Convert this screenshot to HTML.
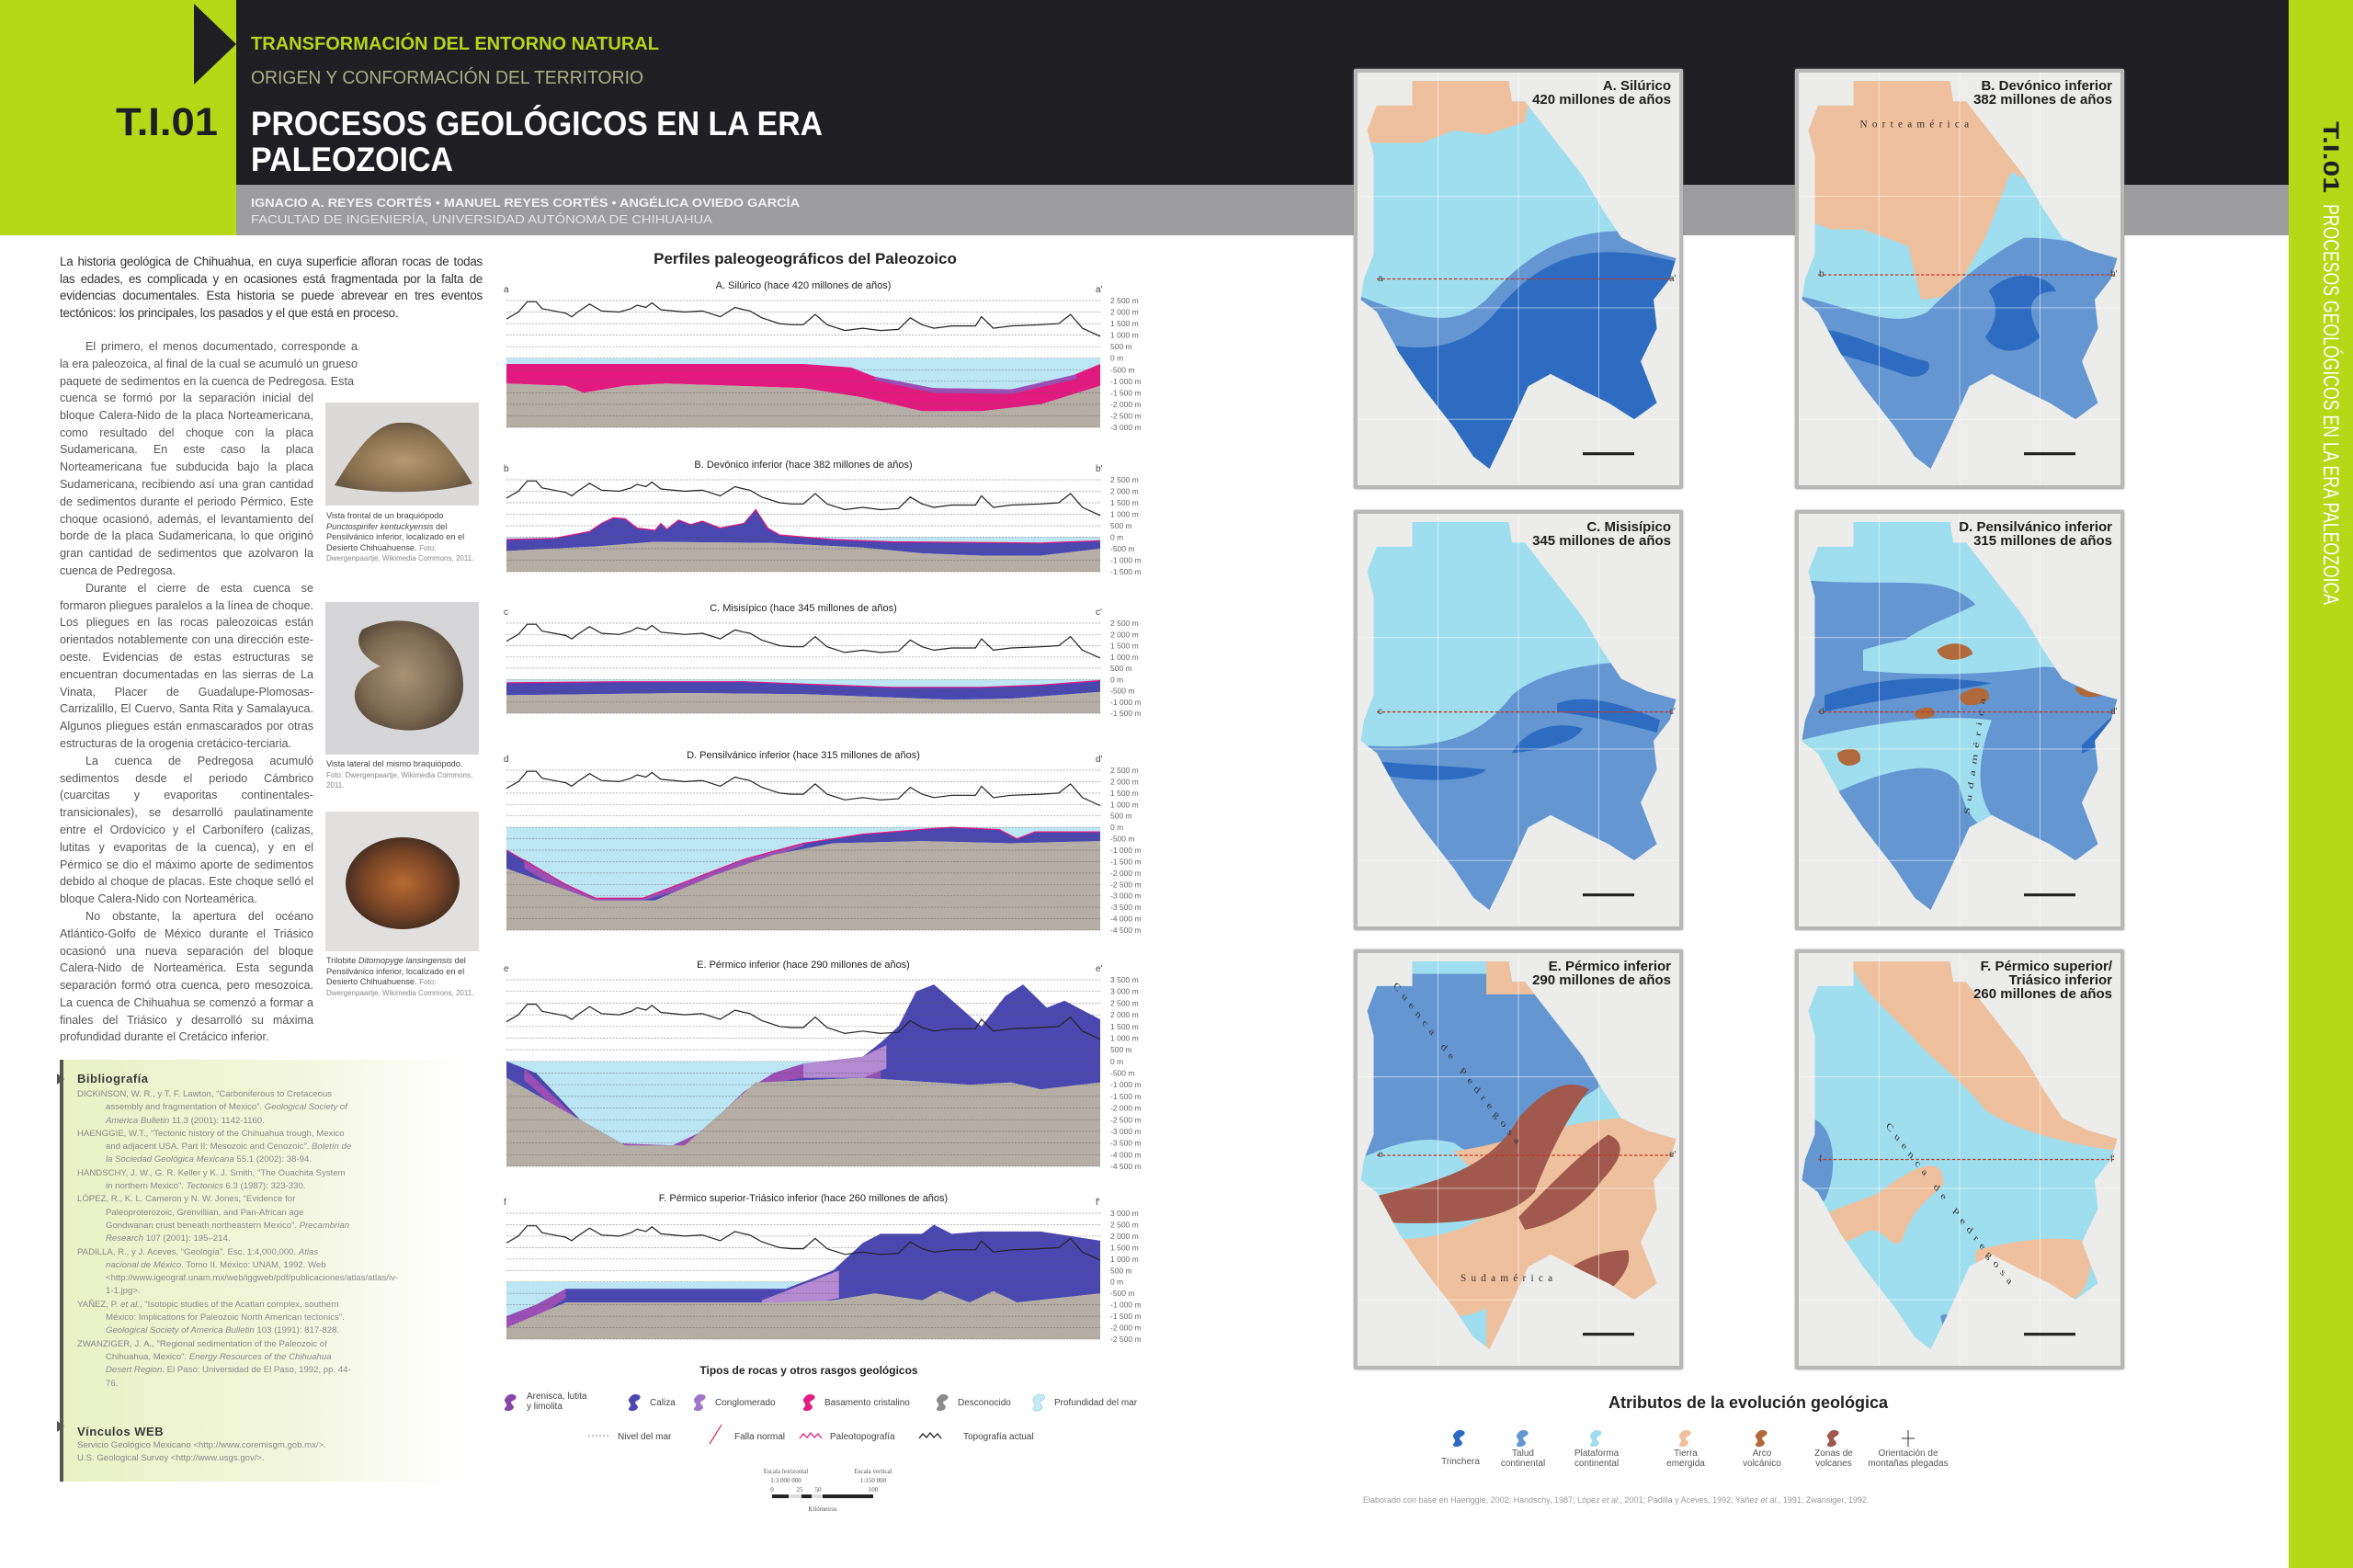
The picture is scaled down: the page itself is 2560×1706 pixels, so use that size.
<!DOCTYPE html>
<html lang="es"><head><meta charset="utf-8"><title>T.I.01 Procesos geológicos en la era paleozoica</title>
<style>
*{margin:0;padding:0;box-sizing:border-box}
html,body{width:2560px;height:1706px;overflow:hidden;background:#fff;font-family:"Liberation Sans",sans-serif}
.abs{position:absolute}
#body p{text-align:justify;font-size:12.6px;line-height:18.8px;color:#555;text-indent:28px}
.cap{font-size:9.2px;line-height:11.5px;color:#444}
.cap small{font-size:8px;color:#888}
.bib{font-size:9.6px;line-height:14.3px;color:#8a8a8a}
.bib div{padding-left:31px;text-indent:-31px}
.lg{font-size:10px;color:#444}
.mt{font-weight:bold;font-size:15px;line-height:15px;text-align:right;color:#1e1e1e}
.at{font-size:10px;color:#555;text-align:center;line-height:11px;position:absolute;width:80px}
</style></head><body>
<!-- header -->
<div class="abs" style="left:0;top:0;width:257px;height:256px;background:#b6d816"></div>
<div class="abs" style="left:257px;top:0;width:2233px;height:201px;background:#1f1e23"></div>
<div class="abs" style="left:257px;top:201px;width:2233px;height:55px;background:#9d9c9e"></div>
<div class="abs" style="left:2490px;top:0;width:70px;height:1706px;background:#b6d816"></div>
<svg class="abs" style="left:0;top:0" width="1300" height="260">
<polygon points="211,4 257,48 211,92" fill="#1f1e23"/>
<text x="273" y="54" font-size="20" font-weight="bold" fill="#b5d51a" textLength="444" lengthAdjust="spacingAndGlyphs">TRANSFORMACIÓN DEL ENTORNO NATURAL</text>
<text x="273" y="91" font-size="20" fill="#a9ae84" textLength="427" lengthAdjust="spacingAndGlyphs">ORIGEN Y CONFORMACIÓN DEL TERRITORIO</text>
<text x="126" y="147" font-size="43" font-weight="bold" fill="#1f1e23" textLength="111" lengthAdjust="spacingAndGlyphs">T.I.01</text>
<text x="273" y="147" font-size="37" font-weight="bold" fill="#fff" textLength="622" lengthAdjust="spacingAndGlyphs">PROCESOS GEOLÓGICOS EN LA ERA</text>
<text x="273" y="186" font-size="37" font-weight="bold" fill="#fff" textLength="220" lengthAdjust="spacingAndGlyphs">PALEOZOICA</text>
<text x="273" y="225" font-size="13" font-weight="bold" fill="#f2f2f2" textLength="597" lengthAdjust="spacingAndGlyphs">IGNACIO A. REYES CORTÉS • MANUEL REYES CORTÉS • ANGÉLICA OVIEDO GARCÍA</text>
<text x="273" y="243" font-size="13" fill="#e6e6e6" textLength="502" lengthAdjust="spacingAndGlyphs">FACULTAD DE INGENIERÍA, UNIVERSIDAD AUTÓNOMA DE CHIHUAHUA</text>
</svg>
<svg class="abs" style="left:2490px;top:0" width="70" height="760">
<g transform="translate(2528 132) rotate(90)" transform-origin="0 0">
</g>
<g transform="translate(38 132) rotate(90)">
<text x="0" y="0" font-size="24" font-weight="bold" fill="#1f1e23" textLength="78" lengthAdjust="spacingAndGlyphs">T.I.01</text>
<text x="90" y="0" font-size="24" fill="#fff" textLength="436" lengthAdjust="spacingAndGlyphs">PROCESOS GEOLÓGICOS EN LA ERA PALEOZOICA</text>
</g></svg>

<!-- body text -->
<div id="body">
<div class="abs" style="left:65px;top:276px;width:460px;font-size:13.4px;line-height:18.5px;color:#333;text-align:justify;letter-spacing:-0.25px">La historia geológica de Chihuahua, en cuya superficie afloran rocas de todas las edades, es complicada y en ocasiones está fragmentada por la falta de evidencias documentales. Esta historia se puede abrevear en tres eventos tectónicos: los principales, los pasados y el que está en proceso.</div>
<div class="abs" style="left:65px;top:368px;width:324px"><p>El primero, el menos documentado, corresponde a la era paleozoica, al final de la cual se acumuló un grueso paquete de sedimentos en la cuenca de Pedregosa. Esta</p></div>
<div class="abs" style="left:65px;top:424px;width:276px"><p style="text-indent:0">cuenca se formó por la separación inicial del bloque Calera-Nido de la placa Norteamericana, como resultado del choque con la placa Sudamericana. En este caso la placa Norteamericana fue subducida bajo la placa Sudamericana, recibiendo así una gran cantidad de sedimentos durante el periodo Pérmico. Este choque ocasionó, además, el levantamiento del borde de la placa Sudamericana, lo que originó gran cantidad de sedimentos que azolvaron la cuenca de Pedregosa.</p>
<p>Durante el cierre de esta cuenca se formaron pliegues paralelos a la línea de choque. Los pliegues en las rocas paleozoicas están orientados notablemente con una dirección este-oeste. Evidencias de estas estructuras se encuentran documentadas en las sierras de La Vinata, Placer de Guadalupe-Plomosas-Carrizalillo, El Cuervo, Santa Rita y Samalayuca. Algunos pliegues están enmascarados por otras estructuras de la orogenia cretácico-terciaria.</p>
<p>La cuenca de Pedregosa acumuló sedimentos desde el periodo Cámbrico (cuarcitas y evaporitas continentales-transicionales), se desarrolló paulatinamente entre el Ordovícico y el Carbonífero (calizas, lutitas y evaporitas de la cuenca), y en el Pérmico se dio el máximo aporte de sedimentos debido al choque de placas. Este choque selló el bloque Calera-Nido con Norteamérica.</p>
<p>No obstante, la apertura del océano Atlántico-Golfo de México durante el Triásico ocasionó una nueva separación del bloque Calera-Nido de Norteamérica. Esta segunda separación formó otra cuenca, pero mesozoica. La cuenca de Chihuahua se comenzó a formar a finales del Triásico y desarrolló su máxima profundidad durante el Cretácico inferior.</p></div>
</div>
<!-- photos -->
<svg class="abs" style="left:354px;top:438px" width="167" height="112"><defs><radialGradient id="f1" cx="50%" cy="55%" r="55%"><stop offset="0" stop-color="#b49a72"/><stop offset=".7" stop-color="#8a7250"/><stop offset="1" stop-color="#6b5a44"/></radialGradient></defs><rect width="167" height="112" fill="#dcdad8"/><path d="M10,90 C40,40 60,20 85,22 C110,20 130,40 160,88 C120,100 50,100 10,90Z" fill="url(#f1)"/></svg>
<div class="abs cap" style="left:355px;top:556px;width:166px">Vista frontal de un braquiópodo <i>Punctospirifer kentuckyensis</i> del Pensilvánico inferior, localizado en el Desierto Chihuahuense. <small>Foto: Dwergenpaartje, Wikimedia Commons, 2011.</small></div>
<svg class="abs" style="left:354px;top:655px" width="167" height="166"><defs><radialGradient id="f2" cx="45%" cy="50%" r="55%"><stop offset="0" stop-color="#a89474"/><stop offset=".7" stop-color="#7c6a52"/><stop offset="1" stop-color="#5a4c3c"/></radialGradient></defs><rect width="167" height="166" fill="#d6d5d8"/><path d="M40,30 C90,5 150,30 150,90 C150,140 90,150 50,130 C20,110 30,80 60,70 C40,60 30,45 40,30Z" fill="url(#f2)"/></svg>
<div class="abs cap" style="left:355px;top:826px;width:166px">Vista lateral del mismo braquiópodo. <small>Foto: Dwergenpaartje, Wikimedia Commons, 2011.</small></div>
<svg class="abs" style="left:354px;top:883px" width="167" height="152"><defs><radialGradient id="f3" cx="50%" cy="50%" r="55%"><stop offset="0" stop-color="#b86a30"/><stop offset=".6" stop-color="#7a4526"/><stop offset="1" stop-color="#3c2a20"/></radialGradient></defs><rect width="167" height="152" fill="#e2e0df"/><ellipse cx="84" cy="78" rx="62" ry="50" fill="url(#f3)"/></svg>
<div class="abs cap" style="left:355px;top:1040px;width:166px">Trilobite <i>Ditomopyge lansingensis</i> del Pensilvánico inferior, localizado en el Desierto Chihuahuense. <small>Foto: Dwergenpaartje, Wikimedia Commons, 2011.</small></div>

<!-- bibliography -->
<div class="abs" style="left:65px;top:1153px;width:445px;height:459px;background:linear-gradient(90deg,#e9f1c4 0%,#f2f6dc 55%,#fff 100%);border-left:4px solid #555"></div>
<svg class="abs" style="left:62px;top:1168px" width="10" height="400"><polygon points="0,0 8,6 0,12" fill="#555"/><polygon points="0,378 8,384 0,390" fill="#555"/></svg>
<div class="abs" style="left:84px;top:1166px;font-weight:bold;font-size:13px;color:#3a3a3a;letter-spacing:.5px">Bibliografía</div>
<div class="abs bib" style="left:84px;top:1184px;width:300px">
<div>DICKINSON, W. R., y T. F. Lawton, “Carboniferous to Cretaceous assembly and fragmentation of Mexico”. <i>Geological Society of America Bulletin</i> 11.3 (2001): 1142-1160.</div>
<div>HAENGGIE, W.T., “Tectonic history of the Chihuahua trough, Mexico and adjacent USA. Part II: Mesozoic and Cenozoic”. <i>Boletín de la Sociedad Geológica Mexicana</i> 55.1 (2002): 38-94.</div>
<div>HANDSCHY, J. W., G. R. Keller y K. J. Smith, "The Ouachita System in northern Mexico". <i>Tectonics</i> 6.3 (1987): 323-330.</div>
<div>LÓPEZ, R., K. L. Cameron y N. W. Jones, “Evidence for Paleoproterozoic, Grenvillian, and Pan-African age Gondwanan crust beneath northeastern Mexico”. <i>Precambrian Research</i> 107 (2001): 195–214.</div>
<div>PADILLA, R., y J. Aceves, “Geología”. Esc. 1:4,000,000. <i>Atlas nacional de México</i>. Tomo II. México: UNAM, 1992. Web &lt;http://www.igeograf.unam.mx/web/iggweb/pdf/publicaciones/atlas/atlas/iv-1-1.jpg&gt;.</div>
<div>YAÑEZ, P. <i>et al.</i>, "Isotopic studies of the Acatlan complex, southern México: Implications for Paleozoic North American tectonics". <i>Geological Society of America Bulletin</i> 103 (1991): 817-828.</div>
<div>ZWANZIGER, J. A., "Regional sedimentation of the Paleozoic of Chihuahua, Mexico". <i>Energy Resources of the Chihuahua Desert Region</i>. El Paso: Universidad de El Paso, 1992, pp. 44-76.</div>
</div>
<div class="abs" style="left:84px;top:1550px;font-weight:bold;font-size:13px;color:#3a3a3a;letter-spacing:.5px">Vínculos WEB</div>
<div class="abs bib" style="left:84px;top:1566px;width:330px">Servicio Geológico Mexicano &lt;http://www.coremisgm.gob.mx/&gt;.<br>U.S. Geological Survey &lt;http://www.usgs.gov/&gt;.</div>

<!-- profiles -->
<div class="abs" style="left:551px;top:272px;width:650px;text-align:center;font-weight:bold;font-size:17px;color:#222">Perfiles paleogeográficos del Paleozoico</div>
<div id="profs"></div>

<!-- profile legend -->
<div class="abs" style="left:680px;top:1484px;width:400px;text-align:center;font-weight:bold;font-size:12px;color:#222">Tipos de rocas y otros rasgos geológicos</div>
<svg class="abs" style="left:540px;top:1505px" width="720" height="150" font-family="Liberation Sans" font-size="10" fill="#444">
<defs><path id="blob" d="M8,0 C14,0 16,4 10,7 C4,10 14,12 10,16 C6,20 -2,18 2,14 C6,10 -2,8 2,4 C4,1 6,0 8,0Z"/></defs>
<use href="#blob" x="8" y="12" fill="#8a46a8"/><text x="33" y="17">Arenisca, lutita</text><text x="33" y="28">y limolita</text>
<use href="#blob" x="143" y="12" fill="#4b47ae"/><text x="167" y="24">Caliza</text>
<use href="#blob" x="214" y="12" fill="#a175c8"/><text x="238" y="24">Conglomerado</text>
<use href="#blob" x="333" y="12" fill="#e31e83"/><text x="357" y="24">Basamento cristalino</text>
<use href="#blob" x="478" y="12" fill="#8d8c8c"/><text x="502" y="24">Desconocido</text>
<use href="#blob" x="583" y="12" fill="#c7e9f6" stroke="#7cc" stroke-width=".6"/><text x="607" y="24">Profundidad del mar</text>
<line x1="100" y1="57" x2="122" y2="57" stroke="#88a" stroke-dasharray="2 2"/><text x="132" y="61">Nivel del mar</text>
<line x1="232" y1="66" x2="245" y2="45" stroke="#d0306a" stroke-width="1.2"/><text x="259" y="61">Falla normal</text>
<polyline points="330,60 334,55 338,59 342,54 346,59 350,55 354,60" fill="none" stroke="#e31e83" stroke-width="1.3"/><text x="363" y="61">Paleotopografía</text>
<polyline points="460,60 464,55 468,59 472,54 476,59 480,55 484,60" fill="none" stroke="#222" stroke-width="1.3"/><text x="508" y="61">Topografía actual</text>
<g font-family="Liberation Serif" font-size="7" text-anchor="middle" fill="#555"><text x="315" y="98">Escala horizontal</text><text x="315" y="108">1:3 000 000</text><text x="410" y="98">Escala vertical</text><text x="410" y="108">1:150 000</text>
<text x="300" y="118">0</text><text x="330" y="118">25</text><text x="350" y="118">50</text><text x="410" y="118">100</text><text x="355" y="139">Kilómetros</text></g>
<rect x="300" y="121" width="110" height="4" fill="#222"/><rect x="318" y="121" width="14" height="4" fill="#ddd"/><rect x="343" y="121" width="12" height="4" fill="#ddd"/>
</svg>

<!-- maps -->
<svg width="0" height="0" class="abs"><defs>
<clipPath id="st" clipPathUnits="objectBoundingBox"><path transform="scale(.01)" d="M17,2 L47,2 L48,7 L52,7 L60,15 L70,25 L76,33 L82,40 L90,43 L99,45 L97,50 L92,55 L93,62 L88,70 L93,80 L86,84 L78,80 L70,77 L60,73 L53,76 L46,88 L41,96 L36,93 L30,86 L20,76 L13,68 L6,58 L1,55 L2,50 L5,44 L5,20 L3,14 L6,8 L17,8 Z"/></clipPath>
</defs></svg>
<div id="maps"></div>

<!-- attributes legend -->
<div class="abs" style="left:1700px;top:1516px;width:404px;text-align:center;font-weight:bold;font-size:18px;color:#222">Atributos de la evolución geológica</div>
<svg class="abs" style="left:1560px;top:1552px" width="560" height="30">
<use href="#blob" x="20" y="4" fill="#2a6cc4"/><use href="#blob" x="89" y="4" fill="#6496d2"/><use href="#blob" x="169" y="4" fill="#9fdeee"/><use href="#blob" x="266" y="4" fill="#efc09d"/><use href="#blob" x="349" y="4" fill="#b0693a"/><use href="#blob" x="427" y="4" fill="#a0594c"/>
<line x1="516" y1="4" x2="516" y2="22" stroke="#333"/><line x1="509" y1="13" x2="523" y2="13" stroke="#333"/>
</svg>
<div class="at" style="left:1549px;top:1581px;top:1585px">Trinchera</div>
<div class="at" style="left:1617px;top:1576px">Talud<br>continental</div>
<div class="at" style="left:1697px;top:1576px">Plataforma<br>continental</div>
<div class="at" style="left:1794px;top:1576px">Tierra<br>emergida</div>
<div class="at" style="left:1877px;top:1576px">Arco<br>volcánico</div>
<div class="at" style="left:1955px;top:1576px">Zonas de<br>volcanes</div>
<div class="at" style="left:2026px;top:1576px;width:100px">Orientación de<br>montañas plegadas</div>
<div class="abs" style="left:1483px;top:1627px;font-size:9px;color:#999">Elaborado con base en Haenggie, 2002; Handschy, 1987; López <i>et al.</i>, 2001; Padilla y Aceves, 1992; Yañez <i>et al.</i>, 1991; Zwansiger, 1992.</div>

<script>
var NS='http://www.w3.org/2000/svg';
var topo=[[0,1700],[0.02,2000],[0.035,2450],[0.05,2450],[0.06,2150],[0.08,2050],[0.1,1950],[0.11,1800],[0.12,2000],[0.14,2350],[0.16,2050],[0.19,2000],[0.21,2150],[0.22,2300],[0.235,2200],[0.245,2400],[0.26,2100],[0.3,2000],[0.33,2050],[0.36,1800],[0.385,2200],[0.4,2100],[0.41,2050],[0.43,1750],[0.46,1500],[0.48,1450],[0.5,1450],[0.52,1900],[0.54,1450],[0.57,1200],[0.6,1300],[0.63,1200],[0.66,1250],[0.68,1750],[0.7,1450],[0.72,1300],[0.75,1400],[0.79,1400],[0.8,1800],[0.82,1300],[0.85,1400],[0.9,1450],[0.93,1500],[0.95,1900],[0.97,1300],[1,950]];
function shift(a,d,x0,x1){return a.filter(p=>p[0]>=x0&&p[0]<=x1).map(p=>[p[0],p[1]-d]);}
var P=[
{t:'A. Silúrico (hace 420 millones de años)',l:'a',y0:327,y1:465,hx:2500,hn:-3000,L:[
 {c:'#e21a7f',top:[[0,-250],[0.5,-250],[0.58,-400],[0.65,-1100],[0.72,-1300],[0.85,-1350],[0.93,-1000],[1,-250]],bot:[[0,-1100],[0.1,-1200],[0.13,-1500],[0.2,-1200],[0.27,-1100],[0.5,-1300],[0.6,-1700],[0.7,-2300],[0.8,-2300],[0.9,-2000],[1,-1200]]},
 {c:'#9b4fb5',top:[[0.62,-800],[0.72,-1300],[0.85,-1350],[0.96,-700]],bot:[[0.62,-950],[0.72,-1500],[0.85,-1550],[0.96,-900]]}]},
{t:'B. Devónico inferior (hace 382 millones de años)',l:'b',y0:522,y1:622,hx:2500,hn:-1500,L:[
 {c:'#4a47b0',s:'#e21a7f',top:[[0,-100],[0.08,-50],[0.14,250],[0.16,600],[0.18,850],[0.2,800],[0.22,400],[0.25,300],[0.26,600],[0.27,350],[0.29,750],[0.31,550],[0.33,700],[0.36,400],[0.38,500],[0.4,600],[0.42,1200],[0.44,400],[0.46,100],[0.55,-100],[0.65,-200],[0.9,-250],[1,-150]],bot:[[0,-600],[0.15,-400],[0.25,-200],[0.45,-250],[0.6,-450],[0.7,-700],[0.8,-800],[0.9,-800],[1,-500]]}]},
{t:'C. Misisípico (hace 345 millones de años)',l:'c',y0:678,y1:776,hx:2500,hn:-1500,L:[
 {c:'#4a47b0',s:'#e21a7f',top:[[0,-150],[0.2,-100],[0.4,-100],[0.5,-200],[0.65,-350],[0.8,-350],[0.9,-250],[1,-50]],bot:[[0,-700],[0.3,-600],[0.5,-650],[0.75,-900],[0.85,-850],[1,-550]]}]},
{t:'D. Pensilvánico inferior (hace 315 millones de años)',l:'d',y0:838,y1:1012,hx:2500,hn:-4500,L:[
 {c:'#4a47b0',s:'#e21a7f',top:[[0,-1000],[0.1,-2500],[0.15,-3100],[0.23,-3100],[0.3,-2400],[0.4,-1400],[0.5,-700],[0.6,-300],[0.72,-50],[0.75,0],[0.83,-100],[0.86,-500],[0.89,-200],[1,-200]],bot:[[0,-1800],[0.15,-3200],[0.25,-3200],[0.35,-2100],[0.45,-1200],[0.55,-700],[0.7,-600],[0.85,-700],[1,-600]]},
 {c:'#9b4fb5',top:[[0.03,-1400],[0.1,-2500],[0.15,-3100],[0.23,-3100],[0.3,-2400],[0.4,-1400],[0.5,-700]],bot:[[0.03,-1800],[0.1,-2900],[0.15,-3200],[0.23,-3200],[0.3,-2700],[0.4,-1800],[0.5,-800]]}]},
{t:'E. Pérmico inferior (hace 290 millones de años)',l:'e',y0:1066,y1:1269,hx:3500,hn:-4500,L:[
 {c:'#4a47b0',top:[[0,0],[0.05,-500],[0.15,-3200],[0.17,-3500],[0.28,-3600],[0.33,-3000],[0.4,-1300],[0.45,-500],[0.5,-100],[0.6,200],[0.63,800],[0.66,1500],[0.69,3000],[0.72,3300],[0.76,2400],[0.8,1500],[0.84,2800],[0.87,3300],[0.91,2300],[0.94,2600],[1,1800]],bot:[[0,-700],[0.2,-3600],[0.3,-3600],[0.42,-900],[0.6,-700],[0.78,-1000],[0.85,-900],[0.9,-1200],[1,-900]]},
 {c:'#9b4fb5',top:[[0.03,-300],[0.15,-3200],[0.17,-3500],[0.28,-3600],[0.33,-3000],[0.4,-1300],[0.45,-500],[0.5,-100],[0.6,200],[0.63,600]],bot:[[0.03,-800],[0.15,-3500],[0.2,-3650],[0.3,-3650],[0.4,-1700],[0.45,-900],[0.5,-700],[0.63,-700]]},
 {c:'#b48ad2',top:[[0.5,-100],[0.6,200],[0.64,700]],bot:[[0.5,-700],[0.6,-700],[0.64,-300]]}]},
{t:'F. Pérmico superior-Triásico inferior (hace 260 millones de años)',l:'f',y0:1320,y1:1457,hx:3000,hn:-2500,L:[
 {c:'#4a47b0',top:[[0,-1500],[0.05,-1000],[0.1,-300],[0.47,-300],[0.55,500],[0.6,1700],[0.63,2100],[0.7,2100],[0.72,2500],[0.75,2100],[0.8,2200],[0.9,2200],[1,1800]],bot:[[0,-2000],[0.1,-900],[0.45,-900],[0.55,-800],[0.62,-500],[0.7,-800],[0.73,-400],[0.78,-900],[0.82,-400],[0.86,-900],[1,-500]]},
 {c:'#9b4fb5',top:[[0,-1500],[0.05,-1000],[0.1,-300]],bot:[[0,-2000],[0.05,-1600],[0.1,-700]]},
 {c:'#b48ad2',top:[[0.43,-800],[0.52,100],[0.56,500]],bot:[[0.43,-900],[0.52,-900],[0.56,-700]]}]}
];
var html='';
P.forEach(function(p){
 var W=646,H=p.y1-p.y0;
 function Y(m){return ((p.hx-m)/(p.hx-p.hn)*H).toFixed(1);}
 function pts(a){return a.map(q=>(q[0]*W).toFixed(1)+','+Y(q[1])).join(' ');}
 var s='<svg class="abs" style="left:551px;top:'+p.y0+'px;overflow:visible" width="'+W+'" height="'+H+'">';
 s+='<rect y="'+Y(0)+'" width="'+W+'" height="'+(H-Y(0))+'" fill="#bde6f5"/>';
 var base=p.L[0].bot;
 p.L.forEach(function(l){s+='<polygon points="'+pts(l.top)+' '+pts(l.bot.slice().reverse())+'" fill="'+l.c+'"/>';});
 s+='<polygon points="'+pts(base)+' '+W+','+H+' 0,'+H+'" fill="#b5aea5"/>';
 if(p.L[0].s) s+='<polyline points="'+pts(p.L[0].top)+'" fill="none" stroke="'+p.L[0].s+'" stroke-width="1.2"/>';
 for(var m=p.hx;m>=p.hn;m-=500){var y=Y(m);
  s+='<line x1="0" x2="'+W+'" y1="'+y+'" y2="'+y+'" stroke="#555" stroke-width=".7" stroke-dasharray="2 1.5" opacity=".6"/>';
  var lab=(m<0?'-':'')+(Math.abs(m)>=1000?Math.floor(Math.abs(m)/1000)+' '+String(Math.abs(m)%1000).padStart(3,'0'):Math.abs(m))+' m';
  s+='<text x="'+(W+11)+'" y="'+(+y+3)+'" font-size="8.5" fill="#666" font-family="Liberation Sans">'+lab+'</text>';}
 s+='<polyline points="'+pts(topo)+'" fill="none" stroke="#222" stroke-width="1.2"/>';
 s+='<text x="-3" y="-9" font-size="10" fill="#444">'+p.l+'</text><text x="'+(W-5)+'" y="-9" font-size="10" fill="#444">'+p.l+'\'</text>';
 s+='<text x="'+(W/2)+'" y="-13" font-size="11" text-anchor="middle" fill="#222">'+p.t+'</text></svg>';
 html+=s;});
document.getElementById('profs').innerHTML=html;

var LB='#9fdeee',MB='#6496d2',DB='#2d6cc0',PE='#efc09d',BR='#b0693a',VO='#a0594c';
var M=[
{x:1473,y:75,t:'A. Silúrico<br>420 millones de años',l:'a',ly:50,r:[[PE,'M0,0 H55 L52,12 L40,15 L30,14 L20,17 L10,17 L0,17Z'],[MB,'M0,54 C20,60 30,62 40,55 C55,42 70,35 100,40 V100 H0Z'],[DB,'M0,64 C20,69 35,67 45,56 C60,43 75,41 100,46 V100 H0Z']]},
{x:1953,y:75,t:'B. Devónico inferior<br>382 millones de años',l:'b',ly:49,r:[[PE,'M0,0 H62 L76,28 L66,24 L58,40 L48,54 L38,55 L34,42 L20,38 L10,38 L0,35Z'],[MB,'M0,54 C20,58 30,62 40,58 C50,50 60,44 70,40 C85,40 95,43 100,44 V100 H0Z'],[DB,'M59,53 C66,47 78,49 80,53 C72,53 70,57 75,64 C70,68 62,69 58,64 C62,60 62,56 59,53Z'],[DB,'M4,62 C15,62 28,68 40,70 C42,72 38,75 32,73 C22,70 10,68 4,66Z']],tx:'<text x="19" y="17" font-family="Liberation Serif" font-size="3.2" fill="#333" letter-spacing="1.5" transform="scale(1 .78)">Norteamérica</text>'},
{x:1473,y:555,t:'C. Misisípico<br>345 millones de años',l:'c',ly:48,r:[[MB,'M0,56 C30,58 40,52 48,44 C58,37 80,35 100,36 V100 H0Z'],[DB,'M62,46 C72,43 85,47 94,50 L93,53 C84,51 72,49 62,48Z'],[DB,'M48,58 C52,52 62,50 70,52 C68,55 60,57 48,58Z'],[DB,'M6,60 C18,61 30,61 40,62 C38,64 25,66 6,63Z']]},
{x:1953,y:555,t:'D. Pensilvánico inferior<br>315 millones de años',l:'d',ly:48,r:[[MB,'M0,16 C30,18 45,14 55,22 C45,26 35,28 30,33 C45,38 80,35 100,40 V100 H0Z'],[LB,'M20,33 C40,28 60,28 85,36 C70,38 50,40 20,38Z'],[LB,'M0,55 C15,52 40,48 60,50 C55,60 55,70 62,75 C58,78 52,74 50,66 C45,58 25,62 5,70 L0,70Z'],[DB,'M8,44 C30,38 50,40 60,41 C50,43 30,44 8,48Z'],[DB,'M88,56 C92,53 96,50 99,48 L99,52 C95,55 92,57 88,58Z'],[BR,'M61,12 C66,14 70,16 70,19 C66,20 62,18 61,12Z'],[BR,'M43,33 C48,30 54,32 54,34 C50,36 44,36 43,33Z'],[BR,'M77,33 C82,32 86,34 86,36 C82,37 78,36 77,33Z'],[BR,'M50,44 C55,41 60,42 59,45 C55,47 50,47 50,44Z'],[BR,'M86,42 C90,41 94,42 94,44 C90,45 86,44 86,42Z'],[BR,'M12,58 C16,56 20,57 19,60 C16,62 12,61 12,58Z'],[BR,'M6,66 C8,64 11,65 10,69 C8,71 5,70 6,66Z'],[BR,'M36,48 C40,46 43,47 42,49 C38,50 36,50 36,48Z']],tx:'<text x="0" y="0" font-family="Liberation Serif" font-size="3.2" fill="#333" letter-spacing="1.5" transform="translate(53 73) rotate(-80) scale(1 .78)">Sudamérica</text>'},
{x:1473,y:1033,t:'E. Pérmico inferior<br>290 millones de años',l:'e',ly:49,r:[[MB,'M0,5 H80 V30 C70,35 60,40 55,44 C50,50 40,52 30,46 C20,44 12,46 0,50Z'],[PE,'M40,0 H60 V10 H40Z'],[PE,'M30,48 C50,46 70,38 100,40 V100 H0 V68 C20,72 40,66 45,60Z'],[LB,'M10,80 C20,88 30,90 40,86 V100 H10Z'],[MB,'M8,82 C18,86 25,90 30,95 L15,95Z'],[VO,'M0,60 C20,56 40,54 50,40 C58,33 65,30 72,33 C65,40 60,48 55,58 C45,66 25,66 0,65Z'],[VO,'M50,64 C60,56 70,48 78,44 C84,46 82,50 76,55 C70,62 60,66 52,67Z'],[VO,'M58,82 C64,76 74,72 84,72 C86,76 80,82 70,86 C62,88 58,86 58,82Z']],tx:'<text font-family="Liberation Serif" font-size="3.2" fill="#333" letter-spacing="1.5" transform="translate(11 8) rotate(45) scale(1 .78)">Cuenca de Pedregosa</text><text x="32" y="102" font-family="Liberation Serif" font-size="3.2" fill="#333" letter-spacing="1.5" transform="scale(1 .78)">Sudamérica</text>'},
{x:1953,y:1033,t:'F. Pérmico superior/<br>Triásico inferior<br>260 millones de años',l:'f',ly:50,r:[[PE,'M15,0 H100 V48 C80,46 65,42 58,38 C50,30 40,25 35,20 C25,12 18,8 15,0Z'],[PE,'M25,58 C35,52 45,48 45,56 C40,60 35,62 32,70 C28,72 26,65 20,68 C15,70 10,72 0,72 V66 C10,62 20,60 25,58Z'],[PE,'M55,72 C65,70 80,68 90,70 C92,76 90,82 85,84 C75,80 60,80 55,76Z'],[PE,'M42,96 C45,94 48,95 50,100 H40Z'],[MB,'M4,40 C12,42 12,54 8,60 L0,60 V40Z'],[MB,'M18,82 C24,84 26,88 32,92 C28,96 24,96 20,100 H10 V85Z'],[MB,'M44,88 C47,86 48,90 46,94Z']],tx:'<text font-family="Liberation Serif" font-size="3.2" fill="#333" letter-spacing="1.5" transform="translate(27 42) rotate(45) scale(1 .78)">Cuenca de Pedregosa</text>'}
];
var mh='';
M.forEach(function(m){
 var s='<div class="abs" style="left:'+m.x+'px;top:'+m.y+'px;width:358px;height:457px;background:#ececea;border:4px solid #b8b8b8;border-radius:2px;box-shadow:0 0 2px #999"></div>';
 s+='<svg class="abs" style="left:'+(m.x+4)+'px;top:'+(m.y+4)+'px" width="350" height="449" viewBox="0 0 100 100" preserveAspectRatio="none">';
 s+='<g clip-path="url(#st)"><rect width="100" height="100" fill="'+LB+'"/>';
 m.r.forEach(function(r){s+='<path d="'+r[1]+'" fill="'+r[0]+'"/>';});
 s+='</g>';
 [25,50,75].forEach(function(x){s+='<line x1="'+x+'" x2="'+x+'" y1="0" y2="100" stroke="#fff" stroke-width=".25" opacity=".6"/>';});
 [30,57,84].forEach(function(y){s+='<line y1="'+y+'" y2="'+y+'" x1="0" x2="100" stroke="#fff" stroke-width=".2" opacity=".6"/>';});
 s+='<line x1="6" x2="98" y1="'+m.ly+'" y2="'+m.ly+'" stroke="#c0392b" stroke-width=".3" stroke-dasharray="1 .6"/>';
 s+=(m.tx||'');
 s+='<rect x="70" y="92" width="16" height=".7" fill="#222"/></svg>';
 s+='<div class="abs mt" style="left:'+(m.x+150)+'px;top:'+(m.y+11)+'px;width:195px">'+m.t+'</div>';
 s+='<div class="abs" style="left:'+(m.x+26)+'px;top:'+(m.y+4+m.ly*4.49-6)+'px;font-size:10px;color:#444">'+m.l+'</div>';
 s+='<div class="abs" style="left:'+(m.x+343)+'px;top:'+(m.y+4+m.ly*4.49-6)+'px;font-size:10px;color:#444">'+m.l+'\'</div>';
 mh+=s;});
document.getElementById('maps').innerHTML=mh;
</script>
</body></html>
